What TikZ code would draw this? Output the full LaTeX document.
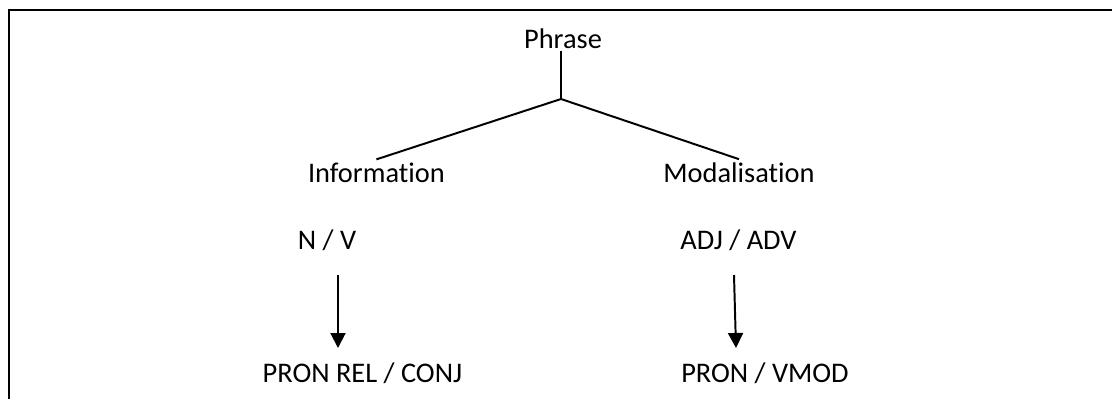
\documentclass[tikz,border=0pt]{standalone}
\usepackage{fontspec}
\setmainfont{Carlito}[Ligatures = {NoCommon, NoContextual}]
\usetikzlibrary{arrows.meta}

\begin{document}
\begin{tikzpicture}[
        word/.style = {anchor = base, inner sep = 2pt, font = \fontsize{20.2}{24}\selectfont},
        branch/.style = {line width = 1.4pt},
        lead/.style = {line width = 1.4pt, -{Triangle[width = .375cm, length = .375cm]}}
    ]
            \useasboundingbox (0,0) rectangle (27.8,9.975);

            % Draw the frame:
            \draw [line width = 1.6pt] (0.225,0) -- (0.225,9.725) -- (27.8,9.725);

            % Draw the labels:
            \node [word] (Phrase) at (14.075,8.775) {Phrase};
            \node [word] (Information) at (9.41,5.425) {Information};
            \node [word] (Modalisation) at (18.475,5.425) {Modalisation};
            \node [word] (NV) at (8.175,3.75) {N / V};
            \node [word] (AdjAdv) at (18.46,3.75) {ADJ / ADV};
            \node [word] (PronRel) at (9.06,0.425) {PRON REL / CONJ};
            \node [word] (PronVmod) at (19.125,0.425) {PRON / VMOD};

            % Draw the tree:
            \coordinate (Fork) at (14.025,7.5);
            \draw [branch] (Phrase.south -| Fork) -- (Fork);
            \draw [branch] (Fork) -- (Information.north);
            \draw [branch] (Fork) -- (Modalisation.north);

            % Draw the arrows:
            \coordinate (LeftFrom) at (8.45,3.1);
            \coordinate (LeftTo) at (8.45,1.275);
            \coordinate (RightFrom) at (18.35,3.1);
            \coordinate (RightTo) at (18.4,1.275);
            \draw [lead] (LeftFrom) -- (LeftTo);
            \draw [lead] (RightFrom) -- (RightTo);
        \end{tikzpicture}
\end{document}
